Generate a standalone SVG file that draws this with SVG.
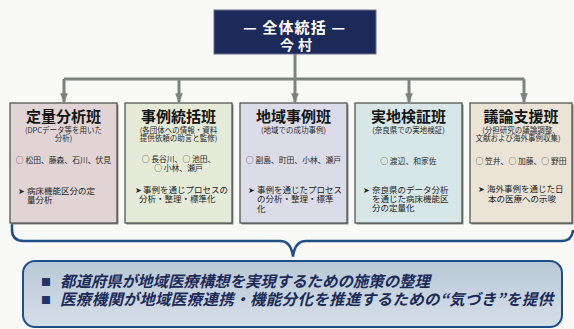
<svg xmlns="http://www.w3.org/2000/svg" width="574" height="329" viewBox="0 0 574 329">
<style>
.jp{font-family:"Noto Sans CJK JP","Noto Sans",sans-serif;}
.ttl{font-size:15px;font-weight:bold;fill:#141414;text-anchor:middle;}
.sub{font-size:7.5px;fill:#2a2a2a;text-anchor:middle;}
.nm{font-size:7.8px;fill:#2a2a2a;text-anchor:middle;}
.act{font-size:8.5px;fill:#222;}
.arr{font-family:"DejaVu Sans",sans-serif;font-size:8px;fill:#222;}
.box{stroke:#4a4a4a;stroke-width:1.2;}
.shd{fill:#8a8a8a;}
.conn{stroke:#7d827d;stroke-width:3;fill:none;}
.big{font-size:15.5px;font-weight:bold;font-style:italic;fill:#1c2a58;}
.bul{font-size:10px;fill:#24346a;}
</style>
<defs>
<marker id="ah" viewBox="0 0 10 8" refX="9" refY="4" markerWidth="3.2" markerHeight="2.6" orient="auto" markerUnits="strokeWidth">
<path d="M0,0 L10,4 L0,8 Z" fill="#7d827d"/>
</marker>
<linearGradient id="bg" x1="0" y1="0" x2="0" y2="1">
<stop offset="0" stop-color="#b9c8d7"/>
<stop offset="1" stop-color="#d5dfe8"/>
</linearGradient>
</defs>
<rect x="0" y="0" width="574" height="329" fill="#f9f9f7"/>

<g id="connectors">
<line class="conn" x1="295" y1="54" x2="295" y2="79"/>
<line class="conn" x1="64" y1="79" x2="524" y2="79"/>
<line class="conn" x1="64" y1="79" x2="64" y2="102" marker-end="url(#ah)"/>
<line class="conn" x1="179" y1="79" x2="179" y2="102" marker-end="url(#ah)"/>
<line class="conn" x1="295" y1="79" x2="295" y2="102" marker-end="url(#ah)"/>
<line class="conn" x1="409" y1="79" x2="409" y2="102" marker-end="url(#ah)"/>
<line class="conn" x1="524" y1="79" x2="524" y2="102" marker-end="url(#ah)"/>
<path d="M12,224 L12,230 Q12,241 24,241 L280,241 Q291,241 293,256.5 Q295,241 306,241 L562,241 Q572,241 573,230" fill="none" stroke="#1f4f86" stroke-width="2.5"/>
</g>

<g id="top">
<rect x="214" y="10" width="162" height="44" fill="#1c2a5a" stroke="#6a7090" stroke-width="1"/>
<text class="jp" x="243" y="32.5" font-size="15" font-weight="bold" fill="#ffffff" textLength="102" lengthAdjust="spacing">— 全体統括 —</text>
<text class="jp" x="280" y="49.5" font-size="14" font-weight="bold" fill="#ffffff">今<tspan dx="4">村</tspan></text>
</g>

<g id="box1">
<rect class="shd" x="11.5" y="104.5" width="107" height="120"/>
<rect class="box" x="10" y="103" width="107" height="120" fill="#e2d4d4"/>
<text class="jp ttl" x="63.5" y="122">定量分析班</text>
<text class="jp sub" x="63.5" y="132.5">(DPCデータ等を用いた</text>
<text class="jp sub" x="63.5" y="140.5">分析)</text>
<text class="jp nm" x="63.5" y="163">○ 松田、藤森、石川、伏見</text>
<text class="arr" x="18" y="193.5">➤</text>
<text class="jp act" x="27" y="193.5">病床機能区分の定</text>
<text class="jp act" x="27" y="202.5">量分析</text>
</g>

<g id="box2">
<rect class="shd" x="126.5" y="104.5" width="107" height="120"/>
<rect class="box" x="125" y="103" width="107" height="120" fill="#e5ead9"/>
<text class="jp ttl" x="178.5" y="122">事例統括班</text>
<text class="jp sub" x="178.5" y="132.5">(各団体への情報・資料</text>
<text class="jp sub" x="178.5" y="140.5">提供依頼の助言と監修)</text>
<text class="jp nm" x="178.5" y="162">○ 長谷川、○ 池田、</text>
<text class="jp nm" x="178.5" y="171">○ 小林、瀬戸</text>
<text class="arr" x="135" y="193">➤</text>
<text class="jp act" x="143" y="193">事例を通じプロセスの</text>
<text class="jp act" x="139" y="202">分析・整理・標準化</text>
</g>

<g id="box3">
<rect class="shd" x="241.5" y="104.5" width="107" height="120"/>
<rect class="box" x="240" y="103" width="107" height="120" fill="#dcdce8"/>
<text class="jp ttl" x="293.5" y="122">地域事例班</text>
<text class="jp sub" x="293.5" y="132.5">(地域での成功事例)</text>
<text class="jp nm" x="293.5" y="163">○ 副島、町田、小林、瀬戸</text>
<text class="arr" x="248" y="193">➤</text>
<text class="jp act" x="257" y="193">事例を通じたプロセス</text>
<text class="jp act" x="257" y="202">の分析・整理・標準</text>
<text class="jp act" x="257" y="211.5">化</text>
</g>

<g id="box4">
<rect class="shd" x="356.5" y="104.5" width="107" height="120"/>
<rect class="box" x="355" y="103" width="107" height="120" fill="#d7e7e7"/>
<text class="jp ttl" x="408.5" y="122">実地検証班</text>
<text class="jp sub" x="408.5" y="132.5">(奈良県での実地検証)</text>
<text class="jp nm" x="408.5" y="163.5">○ 渡辺、和家佐</text>
<text class="arr" x="363" y="192.5">➤</text>
<text class="jp act" x="372" y="192.5">奈良県のデータ分析</text>
<text class="jp act" x="372" y="201.5">を通じた病床機能区</text>
<text class="jp act" x="372" y="210.5">分の定量化</text>
</g>

<g id="box5">
<rect class="shd" x="471.5" y="104.5" width="102" height="120"/>
<rect class="box" x="470" y="103" width="102" height="120" fill="#ebe3d5"/>
<text class="jp ttl" x="521" y="122">議論支援班</text>
<text class="jp sub" x="521" y="132.5">(分担研究の議論調整、</text>
<text class="jp sub" x="518" y="140.5">文献および海外事例収集)</text>
<text class="jp nm" x="521" y="164">○ 笠井、○ 加藤、○ 野田</text>
<text class="arr" x="478" y="192">➤</text>
<text class="jp act" x="487" y="192">海外事例を通じた日</text>
<text class="jp act" x="488" y="201.5">本の医療への示唆</text>
</g>

<g id="summary">
<rect x="23" y="261" width="539" height="66" rx="12" fill="url(#bg)" stroke="#1f4f86" stroke-width="2"/>
<text class="jp bul" x="41" y="286">■</text>
<text class="jp big" x="60" y="287" textLength="370" lengthAdjust="spacing">都道府県が地域医療構想を実現するための施策の整理</text>
<text class="jp bul" x="41" y="304">■</text>
<text class="jp big" x="60" y="305" textLength="493" lengthAdjust="spacing">医療機関が地域医療連携・機能分化を推進するための“気づき”を提供</text>
</g>
</svg>
